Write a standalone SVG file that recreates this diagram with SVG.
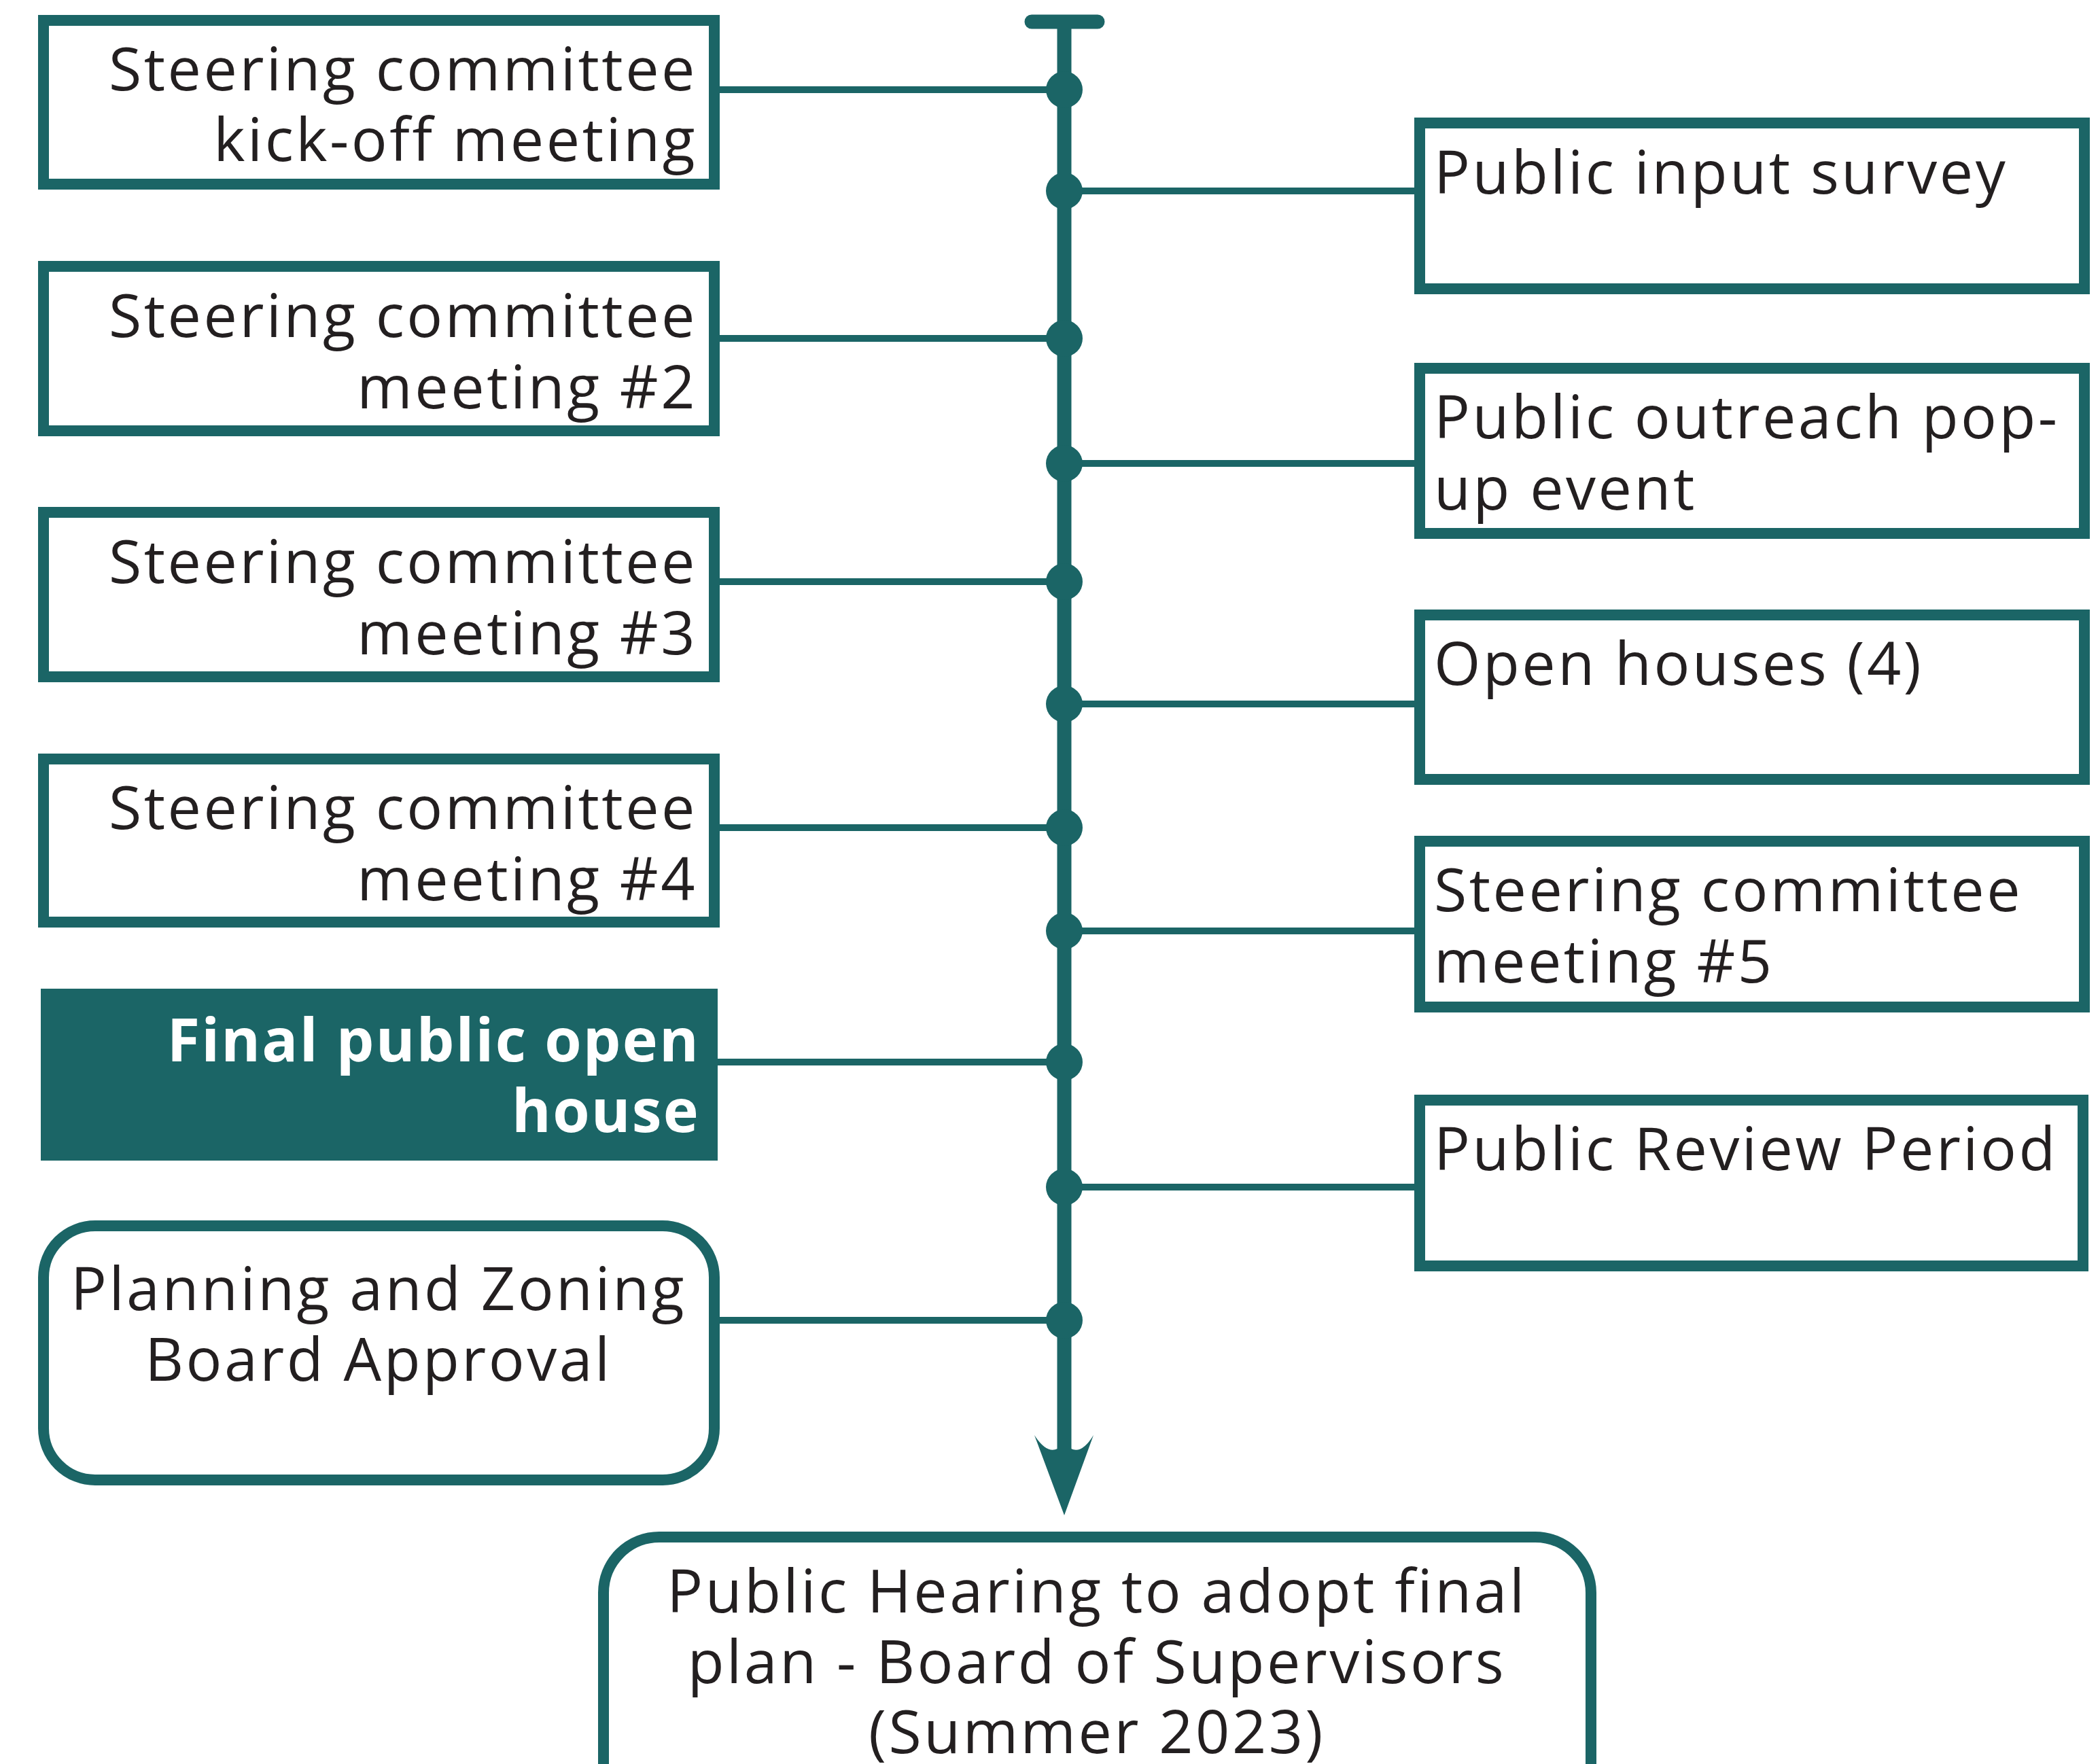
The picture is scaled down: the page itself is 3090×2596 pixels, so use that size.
<svg xmlns="http://www.w3.org/2000/svg" width="3090" height="2596" viewBox="0 0 3090 2596">
<style>
.box{fill:#fff;stroke:#1b6566;stroke-width:16}
.fill{fill:#1b6566}
.t{font-family:"Open Sans","Noto Sans","DejaVu Sans",sans-serif;font-size:88px;fill:#231f20;letter-spacing:3.5px}
.b{font-family:"Open Sans","Noto Sans","DejaVu Sans",sans-serif;font-size:88px;font-weight:bold;fill:#fff;letter-spacing:2.2px}
.end{text-anchor:end}
.mid{text-anchor:middle}
.conn{stroke:#1b6566;stroke-width:10;fill:none}
.axis{stroke:#1b6566;stroke-width:21;fill:none}
.dot{fill:#1b6566}
</style>
<rect width="3090" height="2596" fill="#fff"/>
<g id="connectors">
<line class="axis" x1="1566" y1="32" x2="1566" y2="2135"/>
<line class="axis" x1="1518" y1="32" x2="1615" y2="32" stroke-linecap="round"/>
<path class="fill" d="M1566,2230 L1522,2112 Q1540,2140 1556,2132 L1576,2132 Q1592,2140 1609,2112 Z"/>
<line class="conn" x1="1059" y1="132" x2="1566" y2="132"/>
<line class="conn" x1="1566" y1="281" x2="2081" y2="281"/>
<line class="conn" x1="1059" y1="498" x2="1566" y2="498"/>
<line class="conn" x1="1566" y1="682" x2="2081" y2="682"/>
<line class="conn" x1="1059" y1="856" x2="1566" y2="856"/>
<line class="conn" x1="1566" y1="1036" x2="2081" y2="1036"/>
<line class="conn" x1="1059" y1="1218" x2="1566" y2="1218"/>
<line class="conn" x1="1566" y1="1370" x2="2081" y2="1370"/>
<line class="conn" x1="1056" y1="1563" x2="1566" y2="1563"/>
<line class="conn" x1="1566" y1="1747" x2="2081" y2="1747"/>
<line class="conn" x1="1059" y1="1943" x2="1566" y2="1943"/>
<circle class="dot" cx="1566" cy="132" r="27"/>
<circle class="dot" cx="1566" cy="281" r="27"/>
<circle class="dot" cx="1566" cy="498" r="27"/>
<circle class="dot" cx="1566" cy="682" r="27"/>
<circle class="dot" cx="1566" cy="856" r="27"/>
<circle class="dot" cx="1566" cy="1036" r="27"/>
<circle class="dot" cx="1566" cy="1218" r="27"/>
<circle class="dot" cx="1566" cy="1370" r="27"/>
<circle class="dot" cx="1566" cy="1563" r="27"/>
<circle class="dot" cx="1566" cy="1747" r="27"/>
<circle class="dot" cx="1566" cy="1943" r="27"/>
</g>
<g id="n1"><rect class="box" x="64" y="30" width="987" height="241"/>
<text class="t end" x="1026" y="133">Steering committee</text><text class="t end" x="1026" y="237">kick-off meeting</text></g>
<g id="n2"><rect class="box" x="64" y="392" width="987" height="242"/>
<text class="t end" x="1026" y="496">Steering committee</text><text class="t end" x="1026" y="601">meeting #2</text></g>
<g id="n3"><rect class="box" x="64" y="754" width="987" height="242"/>
<text class="t end" x="1026" y="858">Steering committee</text><text class="t end" x="1026" y="963">meeting #3</text></g>
<g id="n4"><rect class="box" x="64" y="1117" width="987" height="240"/>
<text class="t end" x="1026" y="1220">Steering committee</text><text class="t end" x="1026" y="1325">meeting #4</text></g>
<g id="n5"><rect class="fill" x="60" y="1455" width="996" height="253"/>
<text class="b end" x="1030" y="1562">Final public open</text><text class="b end" x="1030" y="1666">house</text></g>
<g id="n6"><rect class="box" x="64" y="1804" width="987" height="374" rx="76"/>
<text class="t mid" x="557" y="1928">Planning and Zoning</text><text class="t mid" x="557" y="2032">Board Approval</text></g>
<g id="r1"><rect class="box" x="2089" y="181" width="978" height="244"/>
<text class="t" x="2110" y="285">Public input survey</text></g>
<g id="r2"><rect class="box" x="2089" y="542" width="978" height="243"/>
<text class="t" x="2110" y="645">Public outreach pop-</text><text class="t" x="2110" y="750">up event</text></g>
<g id="r3"><rect class="box" x="2089" y="905" width="978" height="242"/>
<text class="t" x="2110" y="1008">Open houses (4)</text></g>
<g id="r4"><rect class="box" x="2089" y="1238" width="978" height="244"/>
<text class="t" x="2110" y="1341">Steering committee</text><text class="t" x="2110" y="1446">meeting #5</text></g>
<g id="r5"><rect class="box" x="2089" y="1619" width="976" height="244"/>
<text class="t" x="2110" y="1722">Public Review Period</text></g>
<g id="final"><rect class="box" x="888" y="2262" width="1453" height="500" rx="82"/>
<text class="t mid" x="1614" y="2373">Public Hearing to adopt final</text><text class="t mid" x="1614" y="2477">plan - Board of Supervisors</text><text class="t mid" x="1614" y="2580">(Summer 2023)</text></g>
</svg>
